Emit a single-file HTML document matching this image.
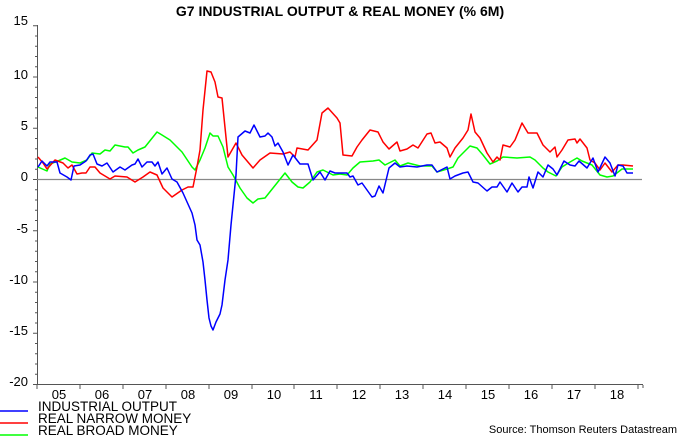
<!DOCTYPE html>
<html><head><meta charset="utf-8"><style>
html,body{margin:0;padding:0;background:#fff;}
svg{display:block;font-family:"Liberation Sans",Arial,sans-serif;}
</style></head><body>
<svg width="680" height="436" viewBox="0 0 680 436" xmlns="http://www.w3.org/2000/svg">
<rect width="680" height="436" fill="#fff"/>
<text x="340" y="16" text-anchor="middle" font-size="14" font-weight="bold">G7 INDUSTRIAL OUTPUT &amp; REAL MONEY (% 6M)</text>
<g font-size="13" text-anchor="end" fill="#000">
<text x="28" y="25">15</text><text x="28" y="79">10</text><text x="28" y="130">5</text><text x="28" y="181">0</text>
<text x="28" y="233">-5</text><text x="28" y="284">-10</text><text x="28" y="335">-15</text><text x="28" y="386">-20</text>
</g>
<g stroke="#555" stroke-width="1" fill="none">
<line x1="37.5" y1="25" x2="37.5" y2="385"/>
<line x1="37" y1="384.5" x2="643" y2="384.5"/>
<path d="M33 25.7H37M33 77H37M33 128.2H37M33 179.5H37M33 230.7H37M33 282H37M33 333.2H37M33 384.5H37"/>
<path d="M35 36H37M35 46.2H37M35 56.5H37M35 66.7H37M35 87.2H37M35 97.5H37M35 107.7H37M35 118H37M35 138.5H37M35 148.7H37M35 159H37M35 169.2H37M35 189.7H37M35 200H37M35 210.2H37M35 220.5H37M35 241H37M35 251.2H37M35 261.5H37M35 271.7H37M35 292.2H37M35 302.5H37M35 312.7H37M35 323H37M35 343.5H37M35 353.7H37M35 364H37M35 374.2H37"/>
<path d="M37 385v4M80 385v4M123 385v4M166 385v4M209 385v4M252 385v4M294 385v4M337 385v4M380 385v4M423 385v4M466 385v4M509 385v4M552 385v4M595 385v4M638 385v4M643 385v3"/>
</g>
<line x1="37" y1="179.5" x2="642" y2="179.5" stroke="#888" stroke-width="1.3"/>
<g font-size="13" text-anchor="middle">
<text x="59" y="399">05</text><text x="102" y="399">06</text><text x="145" y="399">07</text><text x="188" y="399">08</text><text x="231" y="399">09</text><text x="274" y="399">10</text><text x="316" y="399">11</text><text x="359" y="399">12</text><text x="402" y="399">13</text><text x="445" y="399">14</text><text x="488" y="399">15</text><text x="531" y="399">16</text><text x="574" y="399">17</text><text x="617" y="399">18</text>
</g>
<g fill="none" stroke-width="1.5" stroke-linejoin="round">
<polyline stroke="#00ff00" points="38,167 47,171 50,164 58,161 65,158 72,162 80,163 87,160 92,153 100,154 105,150 110,151 115,145 125,147 128,147 133,153 138,150 145,147 157,132 162,135 170,140 182,152 192,167 195,170 200,160 205,148 210,133 213,136 218,136 223,147 228,167 233,175 240,188 247,198 253,203 258,199 265,198 273,188 285,173 292,182 298,187 303,188 310,182 317,172 323,170 333,175 340,174 347,175 353,168 360,162 373,161 379,160 385,165 395,160 400,166 408,163 420,166 432,166 437,172 447,169 453,167 458,158 470,146 477,148 483,155 490,164 497,161 503,157 517,158 530,157 535,160 543,168 548,172 556,176 562,167 570,162 577,158 582,161 592,165 600,175 607,177 613,176 622,169 633,169"/>
<polyline stroke="#ff0000" points="38,157 43,163 47,169 55,160 63,163 68,168 72,165 77,174 82,173 86,173 90,167 95,167 100,173 110,179 115,176 127,177 135,182 143,177 150,172 157,175 163,188 172,197 182,190 188,187 193,187 197,167 200,150 203,110 207,71 211,72 215,82 218,97 222,98 228,157 236,143 242,155 253,168 260,160 270,153 283,154 290,152 295,157 297,148 308,150 317,140 322,113 328,108 337,118 340,123 343,155 352,156 357,147 362,140 370,130 378,132 383,142 389,149 397,142 400,151 407,149 413,145 418,148 427,134 431,133 435,143 440,142 447,148 450,157 455,148 463,138 468,130 471,114 475,132 480,138 487,153 493,162 497,157 500,160 503,145 510,147 515,140 522,123 528,133 537,133 543,145 550,152 555,147 557,157 562,150 568,140 575,139 577,143 580,139 587,148 590,160 595,163 600,170 605,163 612,172 618,165 623,165 633,166"/>
<polyline stroke="#0000ff" points="38,167 42,161 47,166 50,162 57,162 60,173 67,177 71,180 74,166 80,165 86,161 90,155 93,154 97,164 102,166 107,163 113,172 120,167 125,170 132,165 135,164 138,159 142,167 147,162 152,162 155,166 158,162 162,174 167,168 172,179 177,182 183,193 192,213 195,225 197,240 200,245 203,262 205,280 207,300 209,318 211,326 213,330 216,322 220,314 222,305 225,280 228,260 231,225 234,195 236,175 238,137 245,131 250,133 254,125 260,137 265,136 268,133 272,137 275,146 278,143 283,152 288,165 293,155 300,164 308,164 313,180 320,172 325,180 330,171 335,173 340,173 347,173 350,177 353,176 358,185 362,183 372,197 375,196 379,186 383,193 389,168 395,163 400,167 407,166 417,167 427,165 432,165 437,172 447,167 450,179 455,176 463,173 468,172 473,182 478,183 487,191 492,187 497,187 500,182 507,192 512,183 518,192 522,187 527,187 529,177 533,188 538,172 543,177 548,165 553,169 557,175 564,161 570,165 575,166 579,161 587,168 593,158 598,172 605,157 610,163 615,176 618,165 623,166 627,173 633,173"/>
</g>
<g stroke-width="1.5">
<line x1="0" y1="411" x2="28" y2="411" stroke="#0000ff"/>
<line x1="0" y1="423" x2="28" y2="423" stroke="#ff0000"/>
<line x1="0" y1="435" x2="28" y2="435" stroke="#00ff00"/>
</g>
<g font-size="13.5">
<text x="38" y="411">INDUSTRIAL OUTPUT</text>
<text x="38" y="423">REAL NARROW MONEY</text>
<text x="38" y="435">REAL BROAD MONEY</text>
</g>
<text x="677" y="433" font-size="11" text-anchor="end">Source: Thomson Reuters Datastream</text>
</svg>
</body></html>
